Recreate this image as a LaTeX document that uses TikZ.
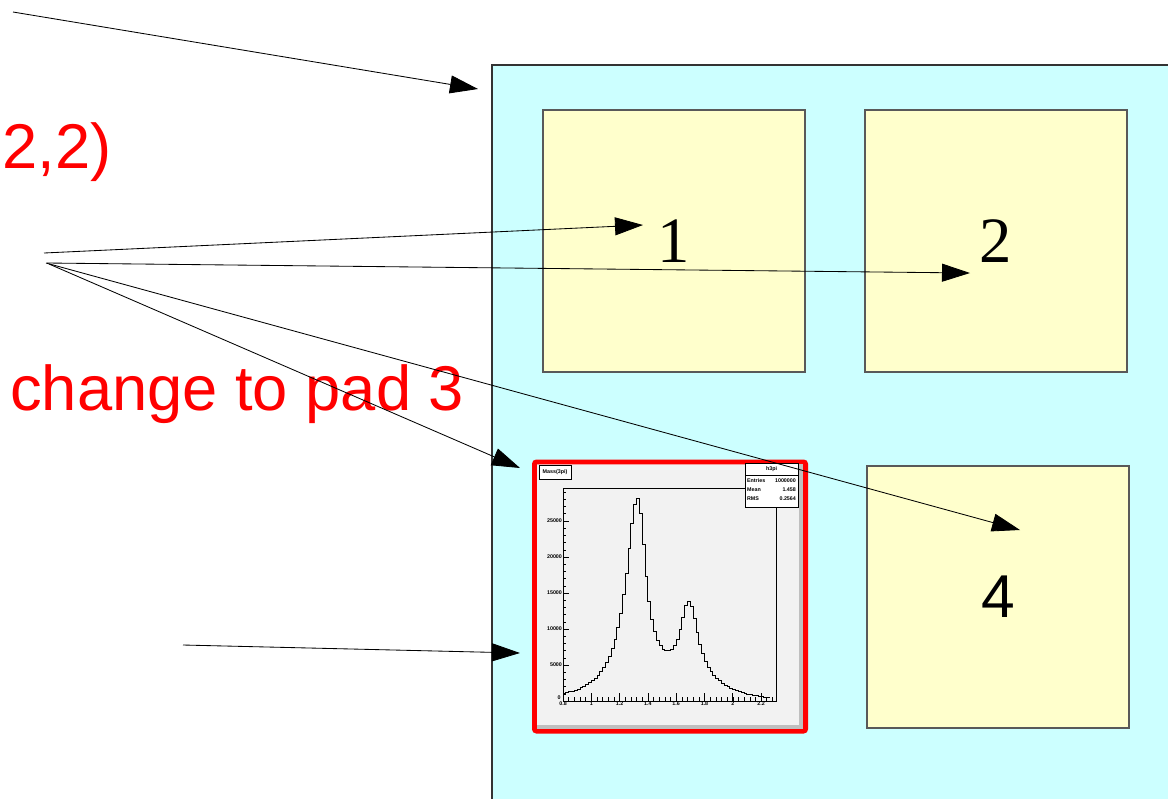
\documentclass[tikz,border=0pt]{standalone}
\usepackage{fontspec}
\setmainfont{Liberation Serif}
\setsansfont{Liberation Sans}
\usetikzlibrary{arrows.meta, positioning}
\definecolor{canvascyan}{HTML}{CCFFFF}
\definecolor{padyellow}{HTML}{FFFFCC}
\colorlet{padedge}{black!65}
\colorlet{histbg}{black!5}
\colorlet{bevelgray}{black!25}
\tikzset{
  ypad/.style={draw=padedge, line width=0.9pt, fill=padyellow, minimum size=6.55cm, inner sep=0pt, font=\fontsize{46}{46}\selectfont},
  hpad/.style={draw=red, line width=3.5pt, fill=histbg, rounded corners=1.5pt, minimum width=6.775cm, minimum height=6.725cm, inner sep=0pt},
  ptr/.style={->, line width=0.6pt},
  redtxt/.style={text=red, inner sep=0pt, font=\sffamily\fontsize{45}{45}\selectfont},
  ticklbl/.style={inner sep=0.6pt, font=\sffamily\bfseries\fontsize{3.8}{3.8}\selectfont},
  statbox/.style={draw, line width=0.5pt, fill=white, inner sep=0pt},
}

\begin{document}
\begin{tikzpicture}[x=0.025cm, y=-0.025cm, >={Triangle[length=0.7cm, width=0.45cm]},
    declare function={bw(\t,\m,\g)=\g*\g/((\t-\m)^2+\g*\g);
      hm(\t)=26*bw(\t,1.318,(\t<1.318 ? 0.1 : 0.07)) + 10.7*bw(\t,1.68,(\t<1.68 ? 0.07 : 0.08))
             + 2.5*exp(-1*(((\t-1.55)/0.4)^2));}]
  \useasboundingbox (0,0) rectangle (1168,798);
  \clip (0,0) rectangle (1168,798);
  % canvas and pads
  \draw[fill=canvascyan, draw=black!80, line width=0.9pt] (492,65) rectangle (1200,830);
  \node[ypad] (pad1) at (674,241) {1};
  \node[ypad] (pad2) at (996,241) {2};
  \node[ypad, font=\sffamily\fontsize{43}{43}\selectfont] (pad4) at (998,597) {4};
  \node[hpad] (pad3) at (670,596.5) {};
  \fill[bevelgray] (799,464) rectangle (803,729);
  \fill[bevelgray] (537,725) rectangle (803,729);
  % histogram in pad 3
  \begin{scope}[shift={(449.9,701)}, x=3.535cm, y=0.18cm]
    \draw[line width=0.5pt] (0.8,0) rectangle (2.306,29.58);
    \foreach \t in {0.84,0.88,...,2.29} \draw[line width=0.4pt] (\t,0) -- (\t,0.55);
    \foreach \t/\lab in {0.8/0.8,1/1,1.2/1.2,1.4/1.4,1.6/1.6,1.8/1.8,2/2,2.2/2.2} {
      \draw[line width=0.5pt] (\t,0) -- (\t,1.1);
      \node[ticklbl, anchor=north] at (\t,0) {\lab};
    }
    \foreach \v in {1,...,29} \draw[line width=0.4pt] (0.8,\v) -- (0.821,\v);
    \foreach \v/\lab in {5/5000,10/10000,15/15000,20/20000,25/25000} {
      \draw[line width=0.5pt] (0.8,\v) -- (0.842,\v);
      \node[ticklbl, anchor=east] at (0.8,\v) {\lab};
    }
    \node[ticklbl, anchor=south east] (ylab0) at (0.79,0) {0};
    \draw[line width=0.6pt] plot[const plot, domain=0.8:2.26, samples=74] (\x,{hm(\x)});
  \end{scope}
  \node[statbox, minimum width=0.8cm, minimum height=0.35cm, ticklbl] (htitle) at (555,472) {Mass(3pi)};
  \node[statbox, minimum width=1.325cm, minimum height=1.1cm] (stats) at (771.5,485) {};
  \draw[line width=0.5pt] (745,475) -- (798,475);
  \node[ticklbl] (hname) at (771.5,469) {h3pi};
  \foreach \y/\key/\val in {481/Entries/1000000, 490/Mean/1.458, 499/RMS/0.2564} {
    \node[ticklbl, anchor=west] at (746,\y) {\key};
    \node[ticklbl, anchor=east] at (797,\y) {\val};
  }
  % red texts
  \node[redtxt, anchor=base east] (divlbl) at (112,168) {2,2)};
  \node[redtxt, anchor=base west] (cdlbl) at (10,410) {change to pad 3};
  % arrows
  \coordinate (s1) at (13,12);    \coordinate (e1) at (478,89);
  \coordinate (s2) at (44,253);   \coordinate (e2) at (643,225);
  \coordinate (s3) at (47,263);   \coordinate (e3) at (970,273);
  \coordinate (s4) at (46,263);   \coordinate (e4) at (1020,530);
  \coordinate (s5) at (49,264);   \coordinate (e5) at (520,468);
  \coordinate (s6) at (183,645);  \coordinate (e6) at (520,653);
  \foreach \i in {1,...,6} \draw[ptr] (s\i) -- (e\i);
\end{tikzpicture}
\end{document}
